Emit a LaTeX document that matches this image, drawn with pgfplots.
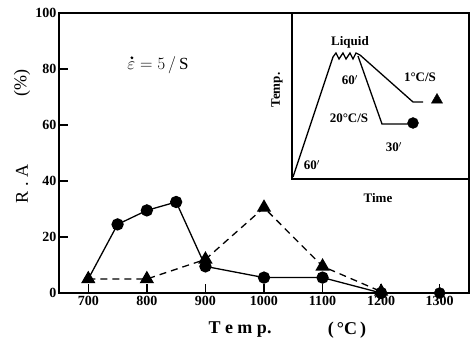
\documentclass[border=0pt]{standalone}
\usepackage{pgfplots}
\pgfplotsset{compat=1.18}
\usepackage{fontspec}
\setmainfont{Liberation Serif}
\begin{document}
\begin{tikzpicture}[x=1pt,y=1pt]
\useasboundingbox (0,0) rectangle (472,344);
\begin{axis}[
  at={(59pt,51pt)}, anchor=south west,
  scale only axis, width=410pt, height=280pt,
  xmin=650, xmax=1350, ymin=0, ymax=100,
  xtick={700,800,...,1300}, ytick={0,20,...,100},
  xtick pos=bottom, ytick pos=left,
  tick align=inside, major tick length=9pt,
  axis line style={line width=1.6pt},
  every tick/.style={line width=1.3pt,black},
  /pgf/number format/assume math mode=true,
  /pgf/number format/1000 sep={},
  tick label style={font=\fontsize{14}{14}\selectfont\bfseries},
  yticklabel style={xshift=1pt},
  clip=false,
]
\addplot[black, line width=1.3pt, mark=*, mark size=5.5pt, mark indices={2,3,4,5,6,7,8}]
 coordinates {(700,5) (750,24.5) (800,29.5) (850,32.5) (900,9.5) (1000,5.5) (1100,5.5) (1200,0)};
\addplot[black, only marks, mark=*, mark size=5.5pt] coordinates {(1300,0)};
\addplot[black, line width=1.3pt, dash pattern=on 7pt off 5pt, mark=triangle*, mark size=7pt, mark options={solid}]
 coordinates {(700,5) (800,5) (900,12) (1000,30.5) (1100,9.5) (1200,0.5)};
\end{axis}
\begin{axis}[
  at={(292pt,165pt)}, anchor=south west,
  scale only axis, width=177pt, height=166pt,
  xmin=0, xmax=177, ymin=0, ymax=166,
  ticks=none, axis line style={line width=1.6pt}, clip=false,
]
\addplot[black, line width=1.3pt] coordinates {(1,2) (41,122) (44,126) (47,120) (51,126) (54,120) (58,126) (61,120) (64,126) (68,124) (121,77) (131,77)};
\addplot[black, line width=1.3pt] coordinates {(66,123) (90,55) (118,55)};
\addplot[black, only marks, mark=*, mark size=5.5pt] coordinates {(121,56)};
\addplot[black, only marks, mark=triangle*, mark size=6.5pt] coordinates {(145,79)};
\node[font=\fontsize{13}{13}\selectfont\bfseries] at (axis cs:58,137) {Liquid};
\node[font=\fontsize{13}{13}\selectfont\bfseries] at (axis cs:58,99) {60$'$};
\node[font=\fontsize{13}{13}\selectfont\bfseries] at (axis cs:128,102) {1°C/S};
\node[font=\fontsize{13}{13}\selectfont\bfseries] at (axis cs:57,61) {20°C/S};
\node[font=\fontsize{13}{13}\selectfont\bfseries] at (axis cs:102,32) {30$'$};
\node[font=\fontsize{13}{13}\selectfont\bfseries] at (axis cs:20,14) {60$'$};
\node[font=\fontsize{13}{13}\selectfont\bfseries, rotate=90] at (axis cs:-15,89) {Temp.};
\node[font=\fontsize{13}{13}\selectfont\bfseries] at (axis cs:86,-19) {Time};
\end{axis}
\node[font=\fontsize{17}{17}\selectfont] (eps) at (158,279) {$\varepsilon=5\,/\,\mathrm{S}$};
\fill ([xshift=8pt,yshift=-5pt]eps.north west) circle (1.6pt);
\node[font=\fontsize{18}{18}\selectfont, rotate=90] at (22,160) {R . A};
\node[font=\fontsize{18}{18}\selectfont, rotate=90] at (22,261) {(\%)};
\node[font=\fontsize{18}{18}\selectfont\bfseries] at (240,14) {T e m p.};
\node[font=\fontsize{18}{18}\selectfont\bfseries] at (347,14) {(\,°C\,)};
\end{tikzpicture}
\end{document}
